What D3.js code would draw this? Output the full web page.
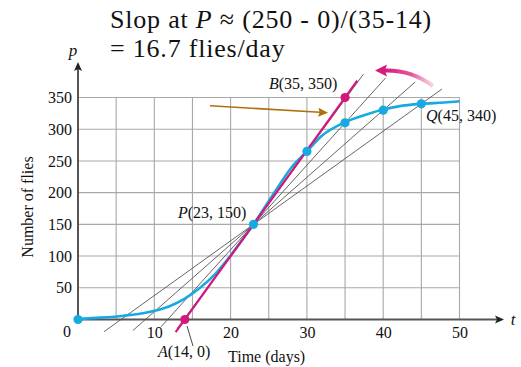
<!DOCTYPE html>
<html><head><meta charset="utf-8">
<script src="https://cdn.jsdelivr.net/npm/d3@7"></script>
<style>body{margin:0;background:#fff}svg{display:block}svg text{font-family:"Liberation Serif","Times New Roman",serif !important;fill:#111}</style>
</head><body>
<svg id="c" width="521" height="367"></svg>
<script>
// ---- data ----
const curveT = [0, 3, 6, 9, 12, 14, 16, 18, 20, 23, 26, 28, 30, 32, 35, 38, 40, 42, 45, 48, 50];
const curveP = [1, 3, 6, 11, 21, 33, 50, 72, 101, 150, 205, 240, 265, 290, 311, 324, 331, 336, 340, 342, 344];
const pointT = [0, 23, 30, 35, 40, 45];
const pointP = [0, 150, 265, 310, 330, 340];
const tangentT = [14, 35];            // A and B
const tangentP = [0, 350];
const tangentExtent = [12.8, 36.6];
const secantQT = [30, 35, 40, 45];
const secantQP = [265, 310, 330, 340];
const secantStart = [13.0, 10.9, 7.2, 3.4];
const secantEnd = [37.4, 40.3, 44.2, 47.7];
const xTicks = [10, 20, 30, 40, 50];
const yTicks = [50, 100, 150, 200, 250, 300, 350];
const gridT = [5, 10, 15, 20, 25, 30, 35, 40, 45, 50];
const P = [23, 150];

const SERIF = '"Liberation Serif", "Times New Roman", serif';
const svg = d3.select("#c");
const x = d3.scaleLinear().domain([0, 50]).range([78, 459.5]);
const y = d3.scaleLinear().domain([0, 350]).range([319.5, 97.5]);

// grid
svg.append("g").selectAll("line").data(gridT).join("line")
  .attr("x1", d => x(d)).attr("x2", d => x(d)).attr("y1", y(0)).attr("y2", y(350))
  .attr("stroke", "#a8a8a8").attr("stroke-width", 1.1);
svg.append("g").selectAll("line").data(yTicks).join("line")
  .attr("x1", x(0)).attr("x2", x(50)).attr("y1", d => y(d)).attr("y2", d => y(d))
  .attr("stroke", "#a8a8a8").attr("stroke-width", 1.1);

// axes lines with arrows
const axisCol = "#555";
svg.append("line").attr("x1", x(0)).attr("x2", 498).attr("y1", y(0)).attr("y2", y(0))
  .attr("stroke", axisCol).attr("stroke-width", 2);
svg.append("path").attr("d", `M504,${y(0)} L495,${y(0)-4} L497,${y(0)} L495,${y(0)+4} Z`).attr("fill", "#222");
svg.append("line").attr("x1", x(0)).attr("x2", x(0)).attr("y1", y(0)+0.5).attr("y2", 68)
  .attr("stroke", axisCol).attr("stroke-width", 2);
svg.append("path").attr("d", `M${x(0)},62 L${x(0)-4},71 L${x(0)},69 L${x(0)+4},71 Z`).attr("fill", "#222");

// tick labels via d3 axes
const ax = svg.append("g").attr("transform", `translate(0,${y(0)})`)
  .call(d3.axisBottom(x).tickValues(xTicks).tickSize(0).tickPadding(7));
ax.select(".domain").remove();
const ay = svg.append("g").attr("transform", `translate(${x(0)},0)`)
  .call(d3.axisLeft(y).tickValues(yTicks).tickSize(0).tickPadding(6));
ay.select(".domain").remove();
ax.attr("font-family", SERIF).attr("font-size", 16);
ay.attr("font-family", SERIF).attr("font-size", 16);
svg.selectAll(".tick text").attr("fill", "#111");
svg.append("text").attr("x", 67).attr("y", 337).attr("text-anchor", "middle").attr("font-size", 16).text("0");

// secant lines
const secants = secantQT.map((t, i) => {
  const m = (secantQP[i] - P[1]) / (t - P[0]);
  return [[secantStart[i], P[1] + m * (secantStart[i] - P[0])], [secantEnd[i], P[1] + m * (secantEnd[i] - P[0])]];
});
svg.append("g").selectAll("line").data(secants).join("line")
  .attr("x1", d => x(d[0][0])).attr("y1", d => y(d[0][1]))
  .attr("x2", d => x(d[1][0])).attr("y2", d => y(d[1][1]))
  .attr("stroke", "#555").attr("stroke-width", 0.9);

// curve
const line = d3.line().x(d => x(d[0])).y(d => y(d[1])).curve(d3.curveMonotoneX);
svg.append("path").datum(curveT.map((t, i) => [t, curveP[i]])).attr("d", line)
  .attr("fill", "none").attr("stroke", "#19a9e1").attr("stroke-width", 2.6);

// tangent
const mt = (tangentP[1] - tangentP[0]) / (tangentT[1] - tangentT[0]);
const tan = tangentExtent.map(t => [t, tangentP[0] + mt * (t - tangentT[0])]);
svg.append("line").attr("x1", x(tan[0][0])).attr("y1", y(tan[0][1]))
  .attr("x2", x(tan[1][0])).attr("y2", y(tan[1][1]))
  .attr("stroke", "#d3177c").attr("stroke-width", 2.2);

// dots
svg.append("g").selectAll("circle").data(pointT.map((t, i) => [t, pointP[i]])).join("circle")
  .attr("cx", d => x(d[0])).attr("cy", d => y(d[1])).attr("r", 4.6).attr("fill", "#19a9e1");
svg.append("g").selectAll("circle").data(tangentT.map((t, i) => [t, tangentP[i]])).join("circle")
  .attr("cx", d => x(d[0])).attr("cy", d => y(d[1])).attr("r", 4.6).attr("fill", "#d3177c");

// leader for A
svg.append("line").attr("x1", 187).attr("y1", 326).attr("x2", 193).attr("y2", 346)
  .attr("stroke", "#333").attr("stroke-width", 0.9);

// brown arrow
svg.append("line").attr("x1", 210).attr("y1", 105.7).attr("x2", 320).attr("y2", 112.3)
  .attr("stroke", "#b0700f").attr("stroke-width", 1.6);
svg.append("path").attr("d", "M328,112.8 L318.5,107.8 L319.7,112.2 L318,116.8 Z").attr("fill", "#b0700f");

// magenta curved arrow
const defs = svg.append("defs");
const g = defs.append("linearGradient").attr("id", "mg").attr("x1", "0%").attr("x2", "100%");
g.append("stop").attr("offset", "0%").attr("stop-color", "#d8197e").attr("stop-opacity", 1);
g.append("stop").attr("offset", "55%").attr("stop-color", "#e0458f").attr("stop-opacity", 0.9);
g.append("stop").attr("offset", "100%").attr("stop-color", "#f4b8d2").attr("stop-opacity", 0.6);
svg.append("path").attr("d", "M433,86 Q412,70 385,70.5")
  .attr("fill", "none").attr("stroke", "url(#mg)").attr("stroke-width", 4.2);
svg.append("path").attr("d", "M375,70.5 L387,64.5 L385,70.5 L387,76.5 Z").attr("fill", "#d8197e");

// labels
function lab(xp, yp, italic, rest, size) {
  const t = svg.append("text").attr("x", xp).attr("y", yp).attr("font-size", size || 16);
  t.append("tspan").attr("font-style", "italic").text(italic);
  t.append("tspan").text(rest);
  return t;
}
lab(269, 89, "B", "(35, 350)");
lab(426, 121, "Q", "(45, 340)");
lab(178, 218, "P", "(23, 150)");
lab(158, 357, "A", "(14, 0)");
svg.append("text").attr("x", 228).attr("y", 362).attr("font-size", 16).text("Time (days)");
svg.append("text").attr("transform", "translate(33,207) rotate(-90)").attr("text-anchor", "middle")
  .attr("font-size", 16).text("Number of flies");
svg.append("text").attr("x", 73).attr("y", 56).attr("text-anchor", "middle").attr("font-style", "italic").attr("font-size", 17).text("p");
svg.append("text").attr("x", 513).attr("y", 325).attr("text-anchor", "middle").attr("font-style", "italic").attr("font-size", 17).text("t");

// title
const t1 = svg.append("text").attr("x", 110).attr("y", 27.8).attr("font-size", 26).attr("letter-spacing", 0.8);
t1.append("tspan").text("Slop at ");
t1.append("tspan").attr("font-style", "italic").text("P");
t1.append("tspan").text(" \u2248 (250 - 0)/(35-14)");
svg.append("text").attr("x", 110).attr("y", 56.8).attr("font-size", 26).attr("letter-spacing", 0.8).text("= 16.7 flies/day");

svg.selectAll("text").style("font-family", SERIF);
</script>
</body></html>
